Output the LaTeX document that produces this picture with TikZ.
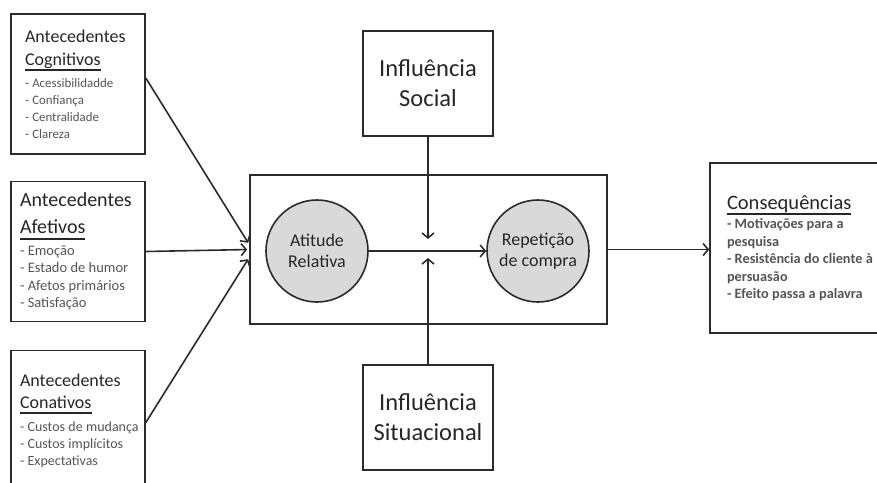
\documentclass[tikz,border=0pt]{standalone}
\usepackage{fontspec}
\setmainfont{Carlito}
\usetikzlibrary{arrows.meta}
\definecolor{circfill}{HTML}{D9D9D9}
\definecolor{itemgray}{HTML}{555555}
\definecolor{headgray}{HTML}{262626}
\definecolor{linegray}{HTML}{2B2B2B}
% underline with a thick bar
\newcommand{\ulbar}[1]{\vtop{\hbox{#1\vrule width 0pt depth 4pt}\hrule height 2pt}}
\newcommand{\headfont}[2]{\fontsize{#1}{#2}\selectfont\color{headgray}}
\newcommand{\itemfont}[2]{\fontsize{#1}{#2}\selectfont\color{itemgray}}
% one unbreakable line
\newcommand{\oneline}[1]{\mbox{#1}}
\begin{document}
\begin{tikzpicture}[x=1pt,y=-1pt,>={Straight Barb[length=5pt,width=12pt]},line width=1.6pt,draw=linegray,
	antbox/.style={draw=linegray,minimum width=134pt,minimum height=140pt,text width=116pt,inner xsep=9pt,align=left},
	attcirc/.style={circle,draw=linegray,fill=circfill,minimum size=102pt,align=center,font=\fontsize{18}{21}\selectfont,text=headgray},
	inflbox/.style={draw=linegray,minimum width=130pt,minimum height=105pt,align=center,font=\fontsize{24.5}{30}\selectfont,text=headgray}]
	\useasboundingbox (0,0) rectangle (877,482);
	\clip (0,0) rectangle (877,482);
	\node[antbox,text width=106pt,inner xsep=14pt] (cog) at (78,84) {{\headfont{18}{23}Antecedentes\\ \ulbar{Cognitivos}\par}\vspace{5pt}
		{\itemfont{12.9}{17}\oneline{- Acessibilidadde}\\ \oneline{- Confiança}\\ \oneline{- Centralidade}\\ \oneline{- Clareza}\par}};
	\node[antbox] (afe) at (78,251.5) {{\headfont{20}{27}Antecedentes\\ \ulbar{Afetivos}\par}\vspace{4pt}
		{\itemfont{14.5}{17.5}\oneline{- Emoção}\\ \oneline{- Estado de humor}\\ \oneline{- Afetos primários}\\ \oneline{- Satisfação}\par}};
	\node[antbox] (con) at (78,420.5) {{\headfont{18}{22}Antecedentes\\ \ulbar{Conativos}\par}\vspace{6pt}
		{\itemfont{14}{17}\oneline{- Custos de mudança}\\ \oneline{- Custos implícitos}\\ \oneline{- Expectativas}\par}};
	\node[draw=linegray,minimum width=357pt,minimum height=149pt] (core) at (428.5,249.5) {};
	\node[attcirc] (ati) at (317,251) {Atitude\\Relativa};
	\node[attcirc] (rep) at (538,251) {Repetição\\de compra};
	\node[inflbox] (soc) at (428,83.5) {Influência\\Social};
	\node[inflbox] (sit) at (428,417.5) {Influência\\Situacional};
	\node[draw=linegray,minimum height=170pt,text width=150pt,inner xsep=17pt,align=left] (cons) at (802,248)
		{{\headfont{20.5}{24}\ulbar{Consequências}\par}\vspace{2pt}
		{\itemfont{14.3}{17.5}\bfseries \oneline{- Motivações para a}\\ \oneline{pesquisa}\\ \oneline{- Resistência do cliente à}\\ \oneline{persuasão}\\ \oneline{- Efeito passa a palavra}\par}};
	\coordinate (socend) at (428,239);
	\coordinate (sitend) at (428,258);
	\draw[->,shorten >=2pt] ([yshift=6pt]cog.east) -- ([yshift=5pt]core.west);
	\draw[->,shorten >=2pt] (afe.east) -- (core.west);
	\draw[->,shorten >=2pt] ([yshift=-2pt]con.east) -- ([yshift=-8pt]core.west);
	\draw[->] (soc) -- (socend);
	\draw[->] (sit) -- (sitend);
	\draw[->] (ati) -- (rep);
	\draw[->] (core.east) -- (core.east -| cons.west);
\end{tikzpicture}
\end{document}
